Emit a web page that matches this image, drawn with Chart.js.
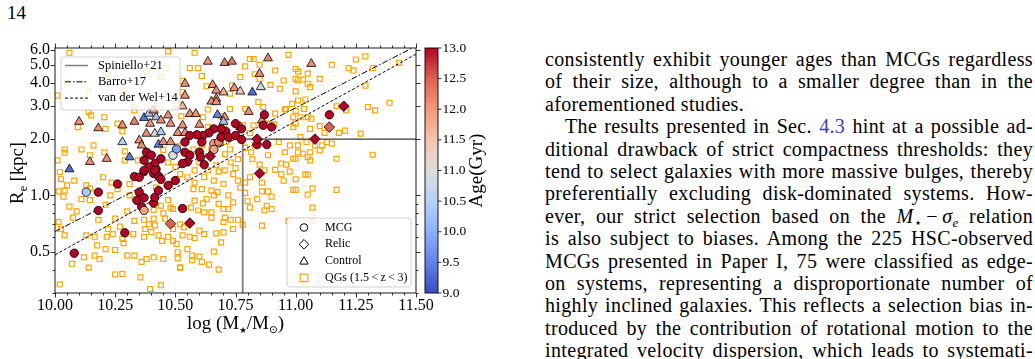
<!DOCTYPE html>
<html>
<head>
<meta charset="utf-8">
<script src="https://cdn.jsdelivr.net/npm/chart.js@4.4.0/dist/chart.umd.min.js"></script>
<style>
html,body{margin:0;padding:0;background:#fff;}
body{width:1035px;height:359px;overflow:hidden;position:relative;font-family:'Liberation Serif','DejaVu Serif',serif;color:#000;}
#pnum{position:absolute;left:7px;top:2px;font-size:19px;line-height:22px;}
#chart{position:absolute;left:0;top:0;}
#col{position:absolute;left:545px;top:48px;width:488px;font-size:20px;line-height:22.4px;letter-spacing:0.35px;}
.ln{height:22.4px;white-space:nowrap;}
.ind{padding-left:20px;}
.ref{color:#3c3cb4;}
sub{font-size:13px;vertical-align:-4px;line-height:0;}
</style>
</head>
<body>
<div id="pnum">14</div>
<canvas id="chart" width="500" height="345"></canvas>
<div id="col">
  <div class="ln j"><span>consistently exhibit younger ages than MCGs regardless</span></div>
  <div class="ln j"><span>of their size, although to a smaller degree than in the</span></div>
  <div class="ln"><span>aforementioned studies.</span></div>
  <div class="ln j ind"><span>The results presented in Sec. <span class="ref">4.3</span> hint at a possible ad-</span></div>
  <div class="ln j"><span>ditional drawback of strict compactness thresholds: they</span></div>
  <div class="ln j"><span>tend to select galaxies with more massive bulges, thereby</span></div>
  <div class="ln j"><span>preferentially excluding disk-dominated systems. How-</span></div>
  <div class="ln j"><span>ever, our strict selection based on the <i>M</i><sub>⋆</sub>&#8201;−&#8201;<i>σ</i><sub><i>e</i></sub> relation</span></div>
  <div class="ln j"><span>is also subject to biases. Among the 225 HSC-observed</span></div>
  <div class="ln j"><span>MCGs presented in Paper I, 75 were classified as edge-</span></div>
  <div class="ln j"><span>on systems, representing a disproportionate number of</span></div>
  <div class="ln j"><span>highly inclined galaxies. This reflects a selection bias in-</span></div>
  <div class="ln j"><span>troduced by the contribution of rotational motion to the</span></div>
  <div class="ln j"><span>integrated velocity dispersion, which leads to systemati-</span></div>
</div>
<script>
// axis ranges and ticks
const massMin = 10.0, massMax = 11.5;
const sizeMin = 0.3, sizeMax = 6.15;
const ageMin = 9.0, ageMax = 13.0;
const xTicks = [10.0, 10.25, 10.5, 10.75, 11.0, 11.25, 11.5];
const yTicks = [0.5, 1.0, 2.0, 3.0, 4.0, 5.0, 6.0];
const yMinor = [0.3, 0.4, 0.6, 0.7, 0.8, 0.9];
const cbTicks = [9.0, 9.5, 10.0, 10.5, 11.0, 11.5, 12.0, 12.5, 13.0];

// reference relations
const lineMass = [10.0, 11.5];
const barroSize = [0.64, 6.3];
const vdwSize = [0.48, 5.7];
const spinMass = 10.78, spinSize = 2.0;

// QGs (1.5<z<3)
const qgMass = [10.06,10.44,10.14,10.01,10.33,10.41,10.33,10.14,10.15,10.205,10.095,10.21,10.26,10.28,10.04,10.04,10.16,10.145,10.29,10.29,10.345,10.205,10.01,10.11,10.47,10.12,10.28,10.38,10.46,10.22,10.05,10.53,
10.58,10.56,10.595,10.79,10.825,10.915,10.97,10.77,10.85,10.95,10.935,10.895,10.53,10.63,10.735,10.727,10.845,10.865,10.79,10.78,10.88,10.915,10.96,10.985,10.99,10.99,10.727,10.69,10.825,10.615,10.635,10.635,10.70,10.505,10.525,10.61,10.93,10.976,10.955,10.99,10.94,10.83,10.815,10.885,10.61,10.81,10.85,10.83,11.0,11.0,10.955,10.91,10.81,10.51,10.575,10.65,10.706,10.727,10.76,10.79,10.71,10.69,10.85,10.82,10.96,
11.15,11.25,11.29,11.22,11.24,11.32,11.43,11.01,11.01,11.05,11.03,11.10,11.05,11.06,11.29,11.0,11.01,11.04,11.035,11.17,11.21,11.30,11.33,11.39,11.14,11.05,11.065,11.02,11.0,11.06,11.10,11.12,11.18,11.205,11.27,11.02,11.15,11.13,11.11,11.08,11.045,11.01,11.01,11.03,11.06,11.10,11.05,11.06,11.0,11.17,11.32,11.0,
10.025,10.05,10.015,10.04,10.035,10.13,10.145,10.11,10.145,10.235,10.23,10.21,10.26,10.31,10.31,10.015,10.025,10.04,10.075,10.13,10.165,10.215,10.24,10.22,10.25,10.28,10.285,10.325,10.37,10.375,10.39,10.41,10.415,10.40,10.43,10.445,10.47,10.49,10.457,10.49,10.48,10.47,10.49,10.41,10.37,10.33,10.175,10.21,10.12,10.165,10.185,10.25,10.30,10.33,10.36,10.38,10.41,10.45,10.07,10.25,10.28,10.355,10.395,10.44,10.02,10.42,10.14,10.52,10.02,10.08,10.2,10.06,10.09,10.18,10.3,10.27,10.45,10.44,
10.58,10.635,10.68,10.705,10.74,10.76,10.79,10.81,10.87,10.915,10.94,10.975,10.95,10.99,10.86,10.86,10.885,10.79,10.84,10.90,10.88,10.90,10.87,10.81,10.80,10.77,10.72,10.74,10.72,10.70,10.706,10.73,10.76,10.74,10.70,10.68,10.66,10.65,10.675,10.61,10.58,10.575,10.63,10.615,10.58,10.565,10.595,10.62,10.65,10.65,10.52,10.535,10.53,10.56,10.58,10.60,10.62,10.67,10.69,10.70,10.78,10.86,10.97,10.505,10.55,10.66,10.60,10.57,10.57,10.51,10.51,10.61,10.64,10.68,10.52,
11.0,11.04,11.05,11.0,11.05,11.07,11.17,11.07,11.07,
10.45,10.47,10.5,10.52,10.55,10.48,10.44,10.62,10.66,10.7,10.6,10.67,10.73,10.75];
const qgSize = [5.8,4.3,3.64,3.42,2.97,3.05,2.85,2.79,2.68,2.62,2.32,2.27,2.42,2.2,1.69,1.76,1.85,1.64,1.72,1.54,1.54,1.7,1.54,1.76,5.9,3.3,3.6,4.6,4.8,4.5,4.0,4.1,
5.8,4.8,4.8,4.9,5.37,4.66,5.65,4.3,4.2,4.12,3.72,3.9,3.57,3.84,3.87,3.5,3.16,2.97,2.9,2.37,2.42,2.74,2.9,3.09,2.62,2.32,2.9,2.65,2.37,2.62,2.88,2.32,2.32,3.02,2.65,1.85,1.93,1.85,1.7,1.57,1.48,1.85,1.7,1.64,4.35,5.37,5.0,4.45,4.75,4.2,2.88,2.4,2.15,1.83,1.76,1.76,1.66,1.76,1.56,1.8,1.93,1.97,1.46,1.56,1.46,
5.0,5.34,5.55,4.8,4.66,4.8,5.12,4.6,4.12,4.48,4.17,4.2,3.96,3.8,3.87,3.6,3.22,3.26,2.9,3.0,2.85,2.97,2.85,3.13,2.7,2.62,2.57,2.62,2.42,2.27,2.35,2.16,2.16,2.22,2.14,2.05,1.89,1.93,1.85,1.85,1.93,1.85,1.70,1.67,1.70,1.74,1.6,1.54,1.57,1.57,1.65,2.83,
1.22,1.13,1.05,1.06,0.985,1.13,1.09,0.955,0.944,1.17,1.0,0.89,1.08,1.15,1.0,0.72,0.66,0.61,0.76,0.61,0.60,0.60,0.62,0.66,0.75,0.585,0.555,0.62,0.60,0.66,0.70,0.75,0.69,0.635,0.61,0.57,0.60,0.57,0.75,0.66,0.86,0.944,0.845,0.835,0.74,0.73,0.54,0.515,0.466,0.476,0.456,0.51,0.476,0.476,0.44,0.456,0.466,0.456,0.43,0.377,0.38,0.364,0.315,0.33,0.333,1.1,0.41,0.41,1.33,1.2,1.25,0.87,0.82,0.74,0.82,0.68,0.8,0.88,
1.36,1.36,1.34,1.36,1.30,1.2,1.17,1.25,1.36,1.37,1.30,1.34,1.2,1.07,1.17,1.05,1.05,1.03,0.955,0.985,0.88,0.845,0.83,0.86,0.93,1.1,1.0,0.917,0.845,0.845,0.76,0.74,0.74,0.66,0.72,0.9,1.0,1.06,1.04,1.08,1.17,1.08,0.955,0.906,0.937,0.86,0.83,0.81,0.81,0.76,0.70,0.675,0.61,0.60,0.59,0.647,0.62,0.626,0.56,0.634,0.697,0.688,0.73,0.55,0.515,0.50,0.47,0.476,0.45,0.496,0.46,0.44,0.426,0.40,0.41,
1.22,1.29,1.29,1.07,1.01,1.09,1.07,0.86,0.73,
1.75,1.5,1.42,1.3,1.25,1.15,1.2,1.25,1.2,1.15,1.5,1.45,1.5,1.4];

// MCGs
const mcgMass = [10.13,10.18,10.18,10.26,10.29,10.08,10.33,10.35,10.37,10.41,10.43,10.44,10.42,10.35,10.34,10.37,10.41,10.415,10.36,10.43,10.47,10.50,10.37,10.53,
10.38,10.40,10.37,10.415,10.44,10.39,10.37,10.415,10.49,10.505,
10.87,10.865,10.90,10.75,10.775,10.71,10.69,10.66,10.64,10.615,10.59,10.56,10.54,10.61,10.66,10.68,10.69,10.72,10.75,10.775,10.84,10.88,10.54,10.56,10.60,10.605,10.55,10.53,10.62,11.14,10.66];
const mcgSize = [1.04,1.04,0.83,1.15,0.63,0.49,1.26,1.25,1.34,1.31,1.27,1.22,1.38,1.04,0.94,0.97,0.91,0.976,0.87,1.06,1.13,1.2,0.83,0.85,
1.7,1.64,1.54,1.48,1.57,1.42,1.36,1.36,1.64,1.77,
2.7,2.37,2.32,2.42,2.27,2.2,2.27,2.27,2.16,2.09,2.11,2.09,1.93,1.93,1.89,1.93,2.05,2.05,2.09,1.99,1.87,1.87,1.70,1.64,1.70,1.60,1.51,1.48,1.46,2.7,1.76];
const mcgAge = [10.4,13.0,13.0,13.0,13.0,13.0,13.0,13.0,13.0,13.0,13.0,13.0,13.0,13.0,13.0,13.0,13.0,13.0,13.0,13.0,13.0,13.0,11.9,13.0,
13.0,13.0,13.0,13.0,13.0,13.0,13.0,13.0,11.0,9.8,
13.0,13.0,13.0,13.0,13.0,13.0,13.0,13.0,13.0,13.0,13.0,13.0,13.0,13.0,12.0,12.2,13.0,13.0,13.0,13.0,13.0,13.0,13.0,13.0,13.0,13.0,13.0,13.0,13.0,13.0,11.9];

// Relics
const relicMass = [10.645,10.84,11.08,11.20,11.14,10.85,10.56,10.48];
const relicSize = [1.62,2.0,2.0,3.0,2.32,1.31,0.71,0.705];
const relicAge = [13.0,13.0,13.0,13.0,12.5,13.0,13.0,12.5];

// Control sample
const ctrlMass = [10.10,10.18,10.215,10.145,10.06,10.28,10.33,10.37,10.39,10.42,10.44,10.47,10.48,10.395,10.38,10.415,10.44,10.28,10.35,10.36,10.31,10.43,10.45,10.48,10.54,10.54,10.53,10.56,10.585,10.60,10.53,10.51,10.54,10.655,10.67,10.67,10.70,10.745,10.77,10.82,10.855,10.85,10.805,10.675,10.705,10.70,10.77,10.86,10.65,10.67,10.635,10.705,10.735,10.885,11.065,10.41];
const ctrlSize = [2.48,2.29,1.57,1.51,1.38,2.37,2.48,2.6,2.74,2.62,2.52,2.68,2.42,2.42,2.14,2.14,2.18,1.93,1.97,1.85,1.6,1.87,1.93,1.93,3.96,3.42,3.0,2.73,2.73,2.39,2.37,2.16,2.16,3.9,3.64,3.29,3.56,3.75,3.6,3.56,3.8,4.48,2.8,2.7,2.62,2.48,2.32,2.52,3.18,3.16,5.2,5.12,5.2,5.42,5.06,2.85];
const ctrlAge = [12.1,12.1,12.1,12.1,9.3,12.1,12.2,9.4,10.4,10.3,12.1,12.1,12.1,12.1,12.1,10.9,10.4,10.5,12.1,12.1,9.4,9.5,12.1,12.1,12.1,12.1,11.7,12.1,12.1,12.1,12.1,12.1,12.1,12.1,12.1,12.1,11.8,12.1,11.4,9.3,10.9,12.1,12.1,9.5,12.1,10.3,12.1,12.1,12.1,12.1,12.1,12.2,12.3,12.2,12.1,12.1];

const SERIF = "'Liberation Serif', 'DejaVu Serif', serif";
const cmStops = [[59,76,192],[98,130,234],[141,176,254],[184,208,249],[221,221,221],[245,196,173],[244,154,123],[222,96,77],[180,4,38]];

function coolwarm(t) {
  t = Math.max(0, Math.min(1, t));
  const s = t * (cmStops.length - 1);
  const i = Math.min(cmStops.length - 2, Math.floor(s));
  const f = s - i;
  const a = cmStops[i], b = cmStops[i + 1];
  return 'rgb(' + [0, 1, 2].map(k => Math.round(a[k] + (b[k] - a[k]) * f)).join(',') + ')';
}
function ageColor(age) { return coolwarm((age - ageMin) / (ageMax - ageMin)); }
function pts(xs, ys) { return xs.map((x, i) => ({x: x, y: ys[i]})); }

function runs(ctx, parts, x, y, center) {
  let w = 0;
  parts.forEach(p => { ctx.font = p[1] + 'px ' + (p[3] || SERIF); w += ctx.measureText(p[0]).width; });
  let cx = center ? x - w / 2 : x;
  parts.forEach(p => {
    ctx.font = p[1] + 'px ' + (p[3] || SERIF);
    ctx.fillText(p[0], cx, y + (p[2] || 0));
    cx += ctx.measureText(p[0]).width;
  });
}

function legendBox(ctx, x, y, w, h) {
  const r = 3;
  ctx.beginPath();
  ctx.moveTo(x + r, y);
  ctx.arcTo(x + w, y, x + w, y + h, r);
  ctx.arcTo(x + w, y + h, x, y + h, r);
  ctx.arcTo(x, y + h, x, y, r);
  ctx.arcTo(x, y, x + w, y, r);
  ctx.closePath();
  ctx.fillStyle = 'rgba(255,255,255,0.8)';
  ctx.fill();
  ctx.strokeStyle = 'rgba(204,204,204,0.9)';
  ctx.lineWidth = 1;
  ctx.stroke();
}

const decor = {
  id: 'decor',
  afterDatasetsDraw(chart) {
    const ctx = chart.ctx, a = chart.chartArea;
    ctx.save();
    // line legend (upper left)
    let lx = a.left + 6, ly = a.top + 9;
    legendBox(ctx, lx, ly, 119, 53);
    const lines = [['Spiniello+21', '#808080', 1.5, []], ['Barro+17', '#000', 1, [6, 2, 1.5, 2]], ['van der Wel+14', '#000', 1, [3, 2]]];
    ctx.textBaseline = 'middle';
    ctx.textAlign = 'left';
    lines.forEach((l, i) => {
      const yy = ly + 8.5 + i * 16.3;
      ctx.strokeStyle = l[1]; ctx.lineWidth = l[2]; ctx.setLineDash(l[3]);
      ctx.beginPath(); ctx.moveTo(lx + 4, yy); ctx.lineTo(lx + 27, yy); ctx.stroke();
      ctx.setLineDash([]);
      ctx.fillStyle = '#000';
      ctx.font = '12.5px ' + SERIF;
      ctx.fillText(l[0], lx + 37, yy);
    });
    // marker legend (lower right)
    const bw = 124, bh = 69;
    lx = a.right - 5 - bw; ly = a.bottom - 6 - bh;
    legendBox(ctx, lx, ly, bw, bh);
    const mx = lx + 17;
    const labels = ['MCG', 'Relic', 'Control', 'QGs (1.5\u2009<\u2009z\u2009<\u20093)'];
    labels.forEach((t, i) => {
      const yy = ly + 9.5 + i * 16.8;
      ctx.lineWidth = 1;
      ctx.strokeStyle = '#000';
      ctx.beginPath();
      if (i === 0) { ctx.arc(mx, yy, 3.8, 0, Math.PI * 2); }
      else if (i === 1) { ctx.moveTo(mx, yy - 4.8); ctx.lineTo(mx + 4.8, yy); ctx.lineTo(mx, yy + 4.8); ctx.lineTo(mx - 4.8, yy); ctx.closePath(); }
      else if (i === 2) { ctx.moveTo(mx, yy - 4.5); ctx.lineTo(mx + 4.2, yy + 3); ctx.lineTo(mx - 4.2, yy + 3); ctx.closePath(); }
      else { ctx.strokeStyle = '#FFA500'; ctx.lineWidth = 1.2; ctx.rect(mx - 3.8, yy - 3.8, 7.6, 7.6); }
      ctx.stroke();
      ctx.fillStyle = '#000';
      ctx.font = '12px ' + SERIF;
      ctx.fillText(t, lx + 38, yy);
    });
    ctx.restore();
  },
  afterDraw(chart) {
    const ctx = chart.ctx, a = chart.chartArea, xs = chart.scales.x, ys = chart.scales.y;
    ctx.save();
    ctx.strokeStyle = '#000';
    ctx.lineWidth = 0.9;
    ctx.strokeRect(a.left, a.top, a.right - a.left, a.bottom - a.top);
    // ticks, outward on all four sides
    ctx.lineWidth = 0.8;
    ctx.beginPath();
    for (let k = 0; k <= 30; k++) {
      const v = massMin + k * 0.05;
      const px = Math.round(xs.getPixelForValue(v)) + 0.5;
      const len = k % 5 === 0 ? 4.5 : 2.5;
      ctx.moveTo(px, a.bottom); ctx.lineTo(px, a.bottom + len);
      ctx.moveTo(px, a.top); ctx.lineTo(px, a.top - len);
    }
    yTicks.concat(yMinor).forEach(v => {
      const py = Math.round(ys.getPixelForValue(v)) + 0.5;
      const len = yTicks.includes(v) ? 4.5 : 2.5;
      ctx.moveTo(a.left, py); ctx.lineTo(a.left - len, py);
      ctx.moveTo(a.right, py); ctx.lineTo(a.right + len, py);
    });
    ctx.stroke();
    // colorbar
    const cbL = a.right + 9, cbR = a.right + 22, cbT = a.top, cbB = a.bottom;
    const g = ctx.createLinearGradient(0, cbB, 0, cbT);
    cmStops.forEach((c, i) => g.addColorStop(i / (cmStops.length - 1), 'rgb(' + c.join(',') + ')'));
    ctx.fillStyle = g;
    ctx.fillRect(cbL, cbT, cbR - cbL, cbB - cbT);
    ctx.lineWidth = 0.9;
    ctx.strokeRect(cbL, cbT, cbR - cbL, cbB - cbT);
    ctx.fillStyle = '#000';
    ctx.font = '13.5px ' + SERIF;
    ctx.textBaseline = 'middle';
    ctx.textAlign = 'left';
    ctx.beginPath();
    cbTicks.forEach(v => {
      const py = cbB - (v - ageMin) / (ageMax - ageMin) * (cbB - cbT);
      ctx.moveTo(cbR, py); ctx.lineTo(cbR + 3.5, py);
      ctx.fillText(v.toFixed(1), cbR + 4.5, py);
    });
    ctx.lineWidth = 0.8;
    ctx.stroke();
    // axis titles
    ctx.textBaseline = 'alphabetic';
    runs(ctx, [['log (M', 19], ['\u2605', 8.5, 3.5, "'DejaVu Sans'"], ['/M', 19], ['\u2299', 10.5, 4, "'DejaVu Sans'"], [')', 19]], (a.left + a.right) / 2, 329, true);
    ctx.save();
    ctx.translate(23, 173);
    ctx.rotate(-Math.PI / 2);
    runs(ctx, [['R', 18.5], ['e', 13, 3.5], [' [kpc]', 18.5]], 0, 0, true);
    ctx.restore();
    ctx.save();
    ctx.translate(cbR + 44, (cbT + cbB) / 2);
    ctx.rotate(-Math.PI / 2);
    runs(ctx, [['Age(Gyr)', 19]], 0, 0, true);
    ctx.restore();
    ctx.restore();
  }
};

Chart.defaults.font.family = SERIF;
Chart.defaults.color = '#000';

new Chart(document.getElementById('chart'), {
  type: 'scatter',
  data: {
    datasets: [
      {label: 'Relic', data: pts(relicMass, relicSize), pointStyle: 'rectRot', pointRadius: 5.3,
        backgroundColor: relicAge.map(ageColor), borderColor: '#000', borderWidth: 0.8},
      {label: 'MCG', data: pts(mcgMass, mcgSize), pointStyle: 'circle', pointRadius: 4.2,
        backgroundColor: mcgAge.map(ageColor), borderColor: '#000', borderWidth: 0.8},
      {label: 'Control', data: pts(ctrlMass, ctrlSize), pointStyle: 'triangle', pointRadius: 5.2,
        backgroundColor: ctrlAge.map(ageColor), borderColor: '#000', borderWidth: 0.8},
      {type: 'line', label: 'Spiniello+21 a', data: [{x: spinMass, y: sizeMin}, {x: spinMass, y: spinSize}],
        borderColor: '#7f7f7f', borderWidth: 1.8, pointRadius: 0, fill: false},
      {type: 'line', label: 'Spiniello+21 b', data: [{x: spinMass, y: spinSize}, {x: massMax, y: spinSize}],
        borderColor: '#3a3a3a', borderWidth: 1.3, pointRadius: 0, fill: false},
      {type: 'line', label: 'Barro+17', data: pts(lineMass, barroSize), borderColor: '#000', borderWidth: 1,
        borderDash: [6, 2, 1.5, 2], pointRadius: 0, fill: false},
      {type: 'line', label: 'van der Wel+14', data: pts(lineMass, vdwSize), borderColor: '#000', borderWidth: 1,
        borderDash: [3, 2], pointRadius: 0, fill: false},
      {label: 'QGs', data: pts(qgMass, qgSize), pointStyle: 'rect', pointRadius: 3.5,
        backgroundColor: 'rgba(0,0,0,0)', borderColor: '#FFA500', borderWidth: 1.2}
    ]
  },
  options: {
    responsive: false,
    animation: false,
    devicePixelRatio: 1,
    layout: {padding: {left: 0, top: 48, right: 84, bottom: 0}},
    plugins: {legend: {display: false}, tooltip: {enabled: false}},
    scales: {
      x: {
        type: 'linear', min: massMin, max: massMax,
        afterBuildTicks: s => { s.ticks = xTicks.map(v => ({value: v})); },
        afterFit: s => { s.height = 52; },
        ticks: {callback: v => Number(v).toFixed(2), font: {size: 16}, color: '#000', padding: 3, autoSkip: false, maxRotation: 0},
        grid: {display: false, drawTicks: false},
        border: {display: false}
      },
      y: {
        type: 'logarithmic', min: sizeMin, max: sizeMax,
        afterBuildTicks: s => { s.ticks = yTicks.map(v => ({value: v})); },
        afterFit: s => { s.width = 55; },
        ticks: {callback: v => Number(v).toFixed(1), font: {size: 16}, color: '#000', padding: 5, autoSkip: false},
        grid: {display: false, drawTicks: false},
        border: {display: false}
      }
    }
  },
  plugins: [decor]
});

// justify the text column line by line
document.querySelectorAll('.ln.j').forEach(el => {
  const inner = el.firstElementChild;
  const target = el.clientWidth - parseFloat(getComputedStyle(el).paddingLeft);
  const spaces = (inner.textContent.match(/ /g) || []).length;
  const w = inner.getBoundingClientRect().width;
  if (spaces) inner.style.wordSpacing = ((target - w) / spaces) + 'px';
});
</script>
</body>
</html>
